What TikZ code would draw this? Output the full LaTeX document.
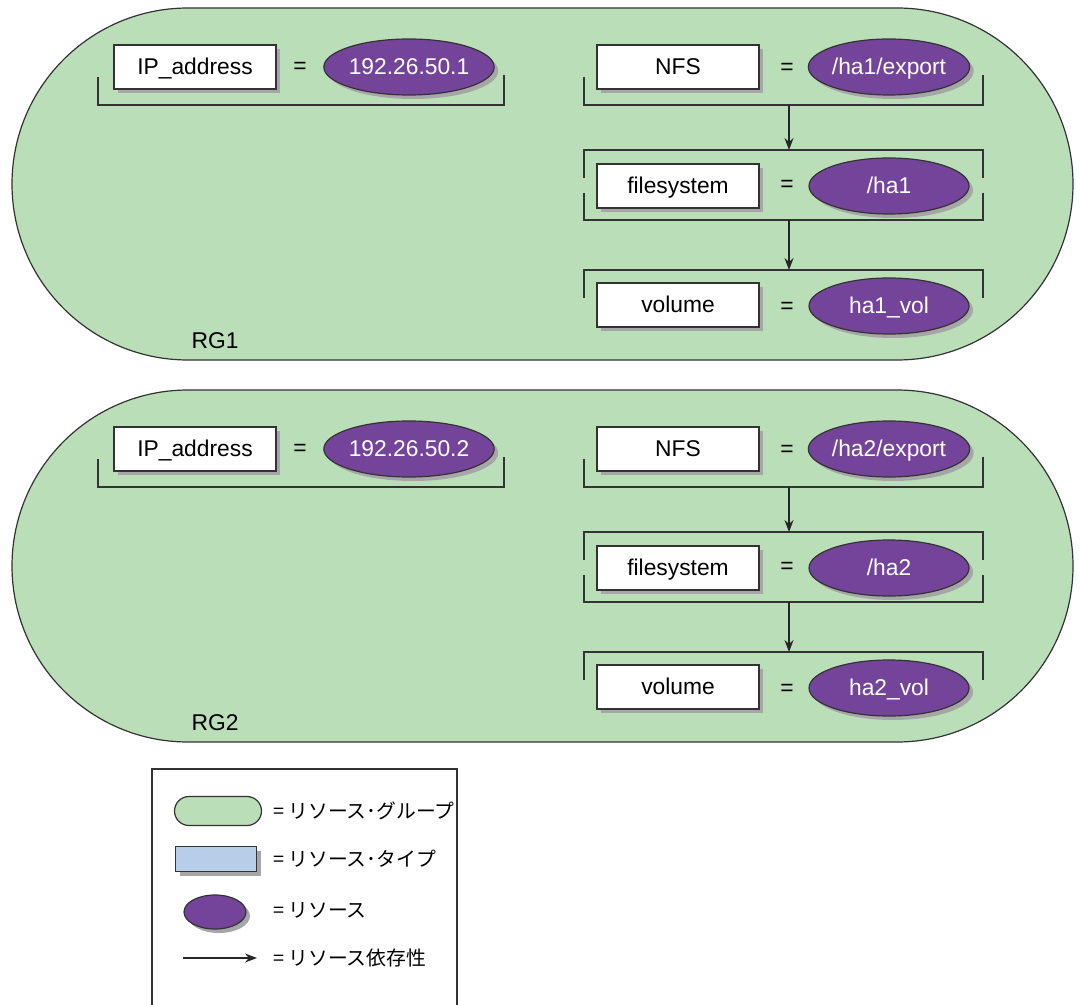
\documentclass[tikz,border=0pt]{standalone}
\usepackage{fontspec}
\setmainfont{Liberation Sans}
\newfontfamily\jpfont{Noto Sans CJK JP}
\usetikzlibrary{shapes.misc,shapes.geometric,shadows,arrows.meta}
\definecolor{groupgreen}{RGB}{185,222,184}
\definecolor{respurple}{RGB}{116,68,154}
\definecolor{typeblue}{RGB}{184,205,232}

\begin{document}
\begin{tikzpicture}[x=0.5pt, y=-0.5pt,
        group/.style={rounded rectangle, draw=black!80, fill=groupgreen, line width=0.6pt, inner sep=0pt},
        typebox/.style={rectangle, draw=black!80, fill=white, line width=0.6pt, inner sep=0pt, text height=8.2pt, text depth=1pt, minimum width=81pt, minimum height=22pt, drop shadow={shadow xshift=2pt, shadow yshift=-2pt, fill=black!35, opacity=1}},
        resource/.style={ellipse, draw=black!80, fill=respurple, text=white, line width=0.6pt, inner sep=0pt, text height=8.2pt, text depth=1pt, minimum width=80pt, minimum height=28pt, drop shadow={shadow xshift=2pt, shadow yshift=-2pt, fill=black!35, opacity=1}},
        bracket/.style={draw=black!80, line width=0.6pt},
        dep/.style={-{Stealth[length=6pt,width=4.5pt]}, draw=black!85, line width=0.6pt},
        legendtext/.style={anchor=west, font=\jpfont\fontsize{9.9}{12}\selectfont},
        font=\fontsize{11.4}{13}\selectfont]
    \useasboundingbox (0,0) rectangle (1080,1005);

    \foreach \g/\dy/\ip in {1/0/192.26.50.1, 2/382/192.26.50.2} {
        \node[group, minimum width=530.5pt, minimum height=176pt] (rg\g) at (542.5,{184+\dy}) {};
        \node (rgname\g) at (215,{341+\dy}) {RG\g};

        % brackets
        \draw[bracket] (98,{77+\dy}) -- (98,{105+\dy}) -- (504,{105+\dy}) -- (504,{75+\dy});
        \draw[bracket] (584,{77+\dy}) -- (584,{105+\dy}) -- (983,{105+\dy}) -- (983,{75+\dy});
        \draw[bracket] (584,{178+\dy}) -- (584,{150+\dy}) -- (983,{150+\dy}) -- (983,{178+\dy});
        \draw[bracket] (584,{193+\dy}) -- (584,{220+\dy}) -- (983,{220+\dy}) -- (983,{193+\dy});
        \draw[bracket] (584,{298+\dy}) -- (584,{270+\dy}) -- (983,{270+\dy}) -- (983,{298+\dy});

        \node[typebox]  (ip\g)     at (195,{67+\dy}) {IP\_address};
        \node           (ipeq\g)   at (300,{68+\dy}) {=};
        \node[resource] (ipval\g)  at (409,{67+\dy}) {\ip};

        \node[typebox]  (nfs\g)    at (678,{67+\dy}) {NFS};
        \node           (nfseq\g)  at (787,{69+\dy}) {=};
        \node[resource] (nfsval\g) at (889,{67+\dy}) {/ha\g/export};

        \node[typebox]  (fs\g)     at (678,{186+\dy}) {filesystem};
        \node           (fseq\g)   at (787,{186+\dy}) {=};
        \node[resource] (fsval\g)  at (889,{186+\dy}) {/ha\g};

        \node[typebox]  (vol\g)    at (678,{305+\dy}) {volume};
        \node           (voleq\g)  at (787,{308+\dy}) {=};
        \node[resource] (volval\g) at (889,{306+\dy}) {ha\g\_vol};

        % dependencies
        \coordinate (nfsbot\g) at (789,{105+\dy});
        \coordinate (fstop\g)  at (789,{150+\dy});
        \coordinate (fsbot\g)  at (789,{220+\dy});
        \coordinate (voltop\g) at (789,{270+\dy});
        \draw[dep] (nfsbot\g) -- (fstop\g);
        \draw[dep] (fsbot\g) -- (voltop\g);
    }

    % legend
    \draw[bracket] (152,1005) -- (152,769) -- (457,769) -- (457,1005);
    \node[group, minimum width=43.5pt, minimum height=14.5pt] (keygroup) at (218,811) {};
    \node[typebox, fill=typeblue, minimum width=40.5pt, minimum height=12.5pt] (keytype) at (216,859) {};
    \node[resource, minimum width=31pt, minimum height=17pt] (keyres) at (215,912) {};
    \coordinate (keyfrom) at (183,958);
    \coordinate (keyto)   at (257,958);
    \draw[dep] (keyfrom) -- (keyto);

    \node[legendtext] (keygrouptext) at (266,811) {= リソース･グループ};
    \node[legendtext] (keytypetext)  at (266,859) {= リソース･タイプ};
    \node[legendtext] (keyrestext)   at (266,910) {= リソース};
    \node[legendtext] (keydeptext)   at (266,958) {= リソース依存性};
\end{tikzpicture}
\end{document}
